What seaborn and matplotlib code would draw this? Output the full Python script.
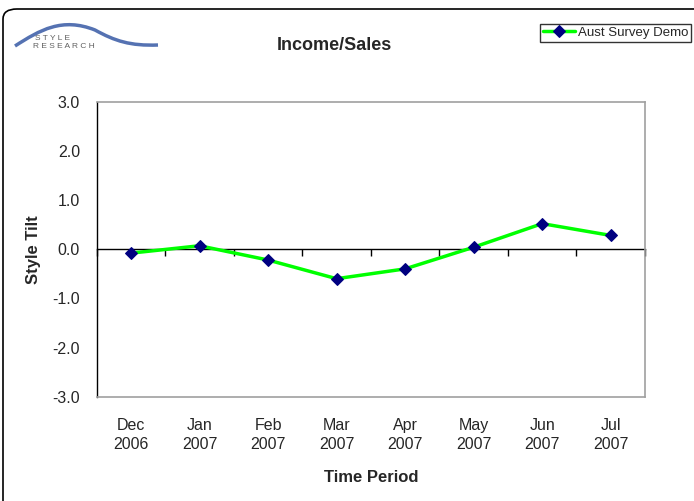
import numpy as np
import pandas as pd
import matplotlib
matplotlib.use('Agg')
import matplotlib.pyplot as plt
from matplotlib.patches import FancyBboxPatch, PathPatch
from matplotlib.path import Path
import seaborn as sns

# data
periods = ['Dec\n2006', 'Jan\n2007', 'Feb\n2007', 'Mar\n2007',
           'Apr\n2007', 'May\n2007', 'Jun\n2007', 'Jul\n2007']
style_tilt = [-0.08, 0.07, -0.22, -0.60, -0.40, 0.04, 0.52, 0.28]
series_name = 'Aust Survey Demo'
y_ticks = [-3.0, -2.0, -1.0, 0.0, 1.0, 2.0, 3.0]

df = pd.DataFrame({'period': periods, 'tilt': style_tilt})

sns.set_style('white')
plt.rcParams['font.family'] = ['Liberation Sans', 'DejaVu Sans']

W, H = 694, 501
fig = plt.figure(figsize=(W / 100, H / 100), dpi=100)
ax = fig.add_axes([96.7 / W, 1 - 396.7 / H, (645 - 96.7) / W, 295 / H])

pos = np.arange(len(periods))
sns.lineplot(x=pos, y=df['tilt'], ax=ax, color='#00FF00', linewidth=2.5,
             marker='D', markersize=6.5, markerfacecolor='#000080',
             markeredgecolor='#000080', label=series_name, legend=False)

ax.set_xlim(-0.5, len(periods) - 0.5)
ax.set_ylim(-3, 3)
ax.set_yticks(y_ticks)
ax.set_yticklabels([f'{v:.1f}' for v in y_ticks], fontsize=11.5)
ax.tick_params(axis='y', direction='inout', length=10, width=1, color='black', pad=7)

# category labels at the bottom, no tick marks
ax.set_xticks(pos)
ax.set_xticklabels(periods, fontsize=11.5, linespacing=1.35)
ax.tick_params(axis='x', length=0, pad=15)

for side in ['top', 'right', 'bottom']:
    ax.spines[side].set_color('#a0a0a0')
    ax.spines[side].set_linewidth(1.2)
ax.spines['left'].set_color('black')
ax.spines['left'].set_linewidth(1)

# zero axis with boundary ticks pointing down
sec = ax.secondary_xaxis(0.5)
sec.xaxis.set_ticks_position('bottom')
sec.set_xticks(np.arange(len(periods) + 1) - 0.5)
sec.set_xticklabels([])
sec.tick_params(direction='out', length=5, width=1, color='black')
for side in ['top', 'bottom']:
    sec.spines[side].set_color('black')
    sec.spines[side].set_linewidth(1)

ax.set_ylabel('Style Tilt', fontsize=12, fontweight='bold', labelpad=8)
ax.set_xlabel('Time Period', fontsize=12, fontweight='bold', labelpad=13)
fig.text(334 / W, 1 - 45 / H, 'Income/Sales', ha='center', va='center',
         fontsize=13, fontweight='bold')

leg = fig.legend(loc='upper right', bbox_to_anchor=(691 / W, 1 - 24 / H),
                 fontsize=9.5, frameon=True, fancybox=False, borderpad=0.2,
                 handlelength=2.4, handletextpad=0.25, borderaxespad=0)
leg.get_frame().set_edgecolor('black')
leg.get_frame().set_linewidth(1)

# rounded outer frame
frame = FancyBboxPatch((3 / W, -0.05), 1.05, 1.05 - 9 / H, transform=fig.transFigure,
                       boxstyle='round,pad=0,rounding_size=0.02',
                       facecolor='none', edgecolor='black', linewidth=1.2)
fig.patches.append(frame)

# logo swoosh
px = [(15, 46), (40, 30), (62, 17), (95, 30), (115, 41), (130, 46), (158, 45)]
verts = [(x / W, 1 - y / H) for x, y in px]
codes = [Path.MOVETO] + [Path.CURVE4] * 6
swoosh = PathPatch(Path(verts, codes), transform=fig.transFigure, facecolor='none',
                   edgecolor='#2a4f9f', linewidth=2.5, alpha=0.8)
fig.patches.append(swoosh)
fig.text(35 / W, 1 - 38 / H, 'S T Y L E', fontsize=6, color='#606060', va='center')
fig.text(33 / W, 1 - 47 / H, 'R E S E A R C H', fontsize=6, color='#606060', va='center')

fig.savefig('out.png', dpi=100)
